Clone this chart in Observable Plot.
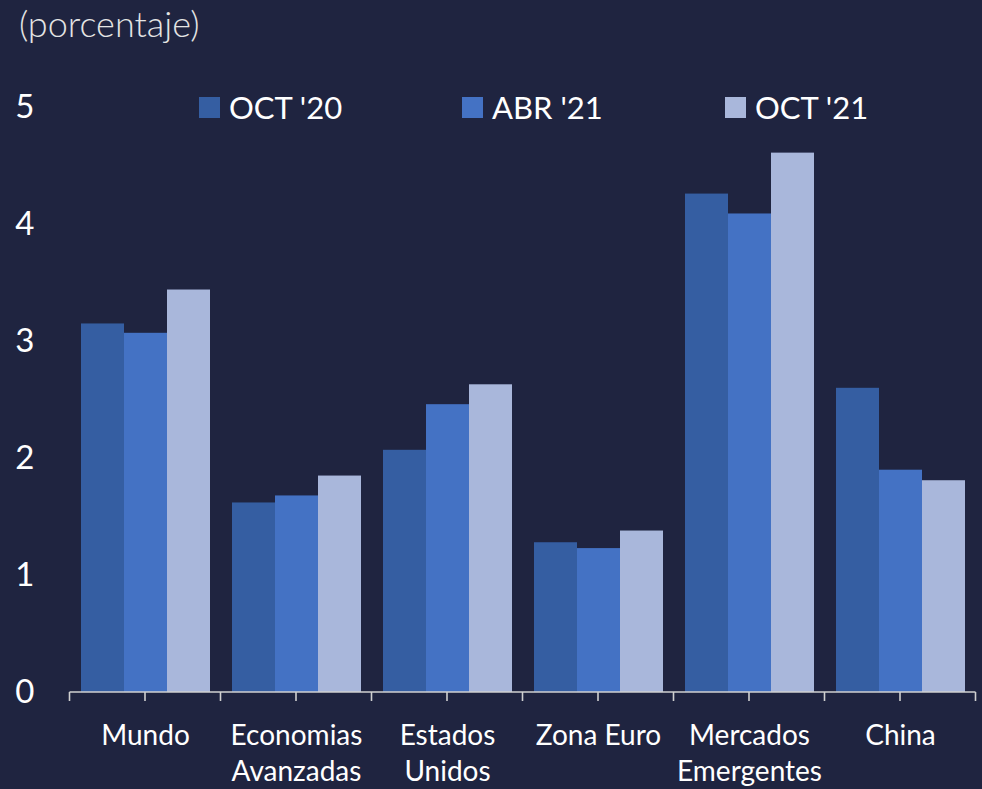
<!DOCTYPE html>
<html>
<head>
<meta charset="utf-8">
<script src="https://cdn.jsdelivr.net/npm/d3@7"></script>
<script src="https://cdn.jsdelivr.net/npm/@observablehq/plot@0.6"></script>
<style>
  html, body { margin: 0; padding: 0; background: #1f2440; }
  #wrap { position: relative; width: 982px; height: 789px; overflow: hidden; font-family: Lato, "Open Sans", sans-serif; }
  #title { position: absolute; left: 19px; top: 1px; font-size: 36px; color: #e4e4e4; font-weight: 300; }
  #legend { position: absolute; left: 199px; top: 88px; display: flex; }
  .item { width: 263px; display: flex; align-items: center; font-size: 31px; color: #ffffff; height: 38px; }
  .sw { width: 21px; height: 21px; margin-right: 9px; flex: none; }
</style>
</head>
<body>
<div id="wrap">
  <div id="title">(porcentaje)</div>
  <div id="legend"></div>
</div>
<script>
const groups = ["Mundo", "Economias Avanzadas", "Estados Unidos", "Zona Euro", "Mercados Emergentes", "China"];
const groupLabels = ["Mundo", "Economias\nAvanzadas", "Estados\nUnidos", "Zona Euro", "Mercados\nEmergentes", "China"];
const series = ["OCT '20", "ABR '21", "OCT '21"];
const colors = ["#355ea2", "#4472c4", "#a9b7db"];
const oct20 = [3.15, 1.62, 2.07, 1.28, 4.26, 2.60];
const abr21 = [3.07, 1.68, 2.46, 1.23, 4.09, 1.90];
const oct21 = [3.44, 1.85, 2.63, 1.38, 4.61, 1.81];
const yTicks = [0, 1, 2, 3, 4, 5];

const values = [oct20, abr21, oct21];
const rows = [];
groups.forEach((g, i) => series.forEach((s, j) => rows.push({group: g, series: s, value: values[j][i]})));
const labelRows = groups.map((g, i) => ({group: g, label: groupLabels[i]}));

const axisColor = "#d0d0d0";

const plot = Plot.plot({
  width: 982,
  height: 789,
  marginTop: 107,
  marginBottom: 97,
  marginLeft: 69,
  marginRight: 7,
  style: {background: "transparent", color: "#ffffff", fontFamily: "Lato, 'Open Sans', sans-serif"},
  fx: {domain: groups, paddingInner: 0.14, paddingOuter: 0.07, axis: null, label: null},
  x: {domain: series, padding: 0, axis: null, label: null},
  y: {domain: [0, 5], axis: null},
  color: {domain: series, range: colors},
  marks: [
    Plot.axisY({ticks: yTicks, tickSize: 0, tickPadding: 46, tickFormat: d3.format("d"), label: null, fontSize: 33, fill: "#ffffff"}),
    Plot.barY(rows, {fx: "group", x: "series", y: "value", fill: "series"}),
    Plot.text(labelRows, {fx: "group", text: "label", frameAnchor: "bottom", lineAnchor: "top", dy: 27, lineHeight: 1.286, fontSize: 28, fill: "#ffffff"})
  ]
});

// baseline axis with ticks at group boundaries and centres, from the fx and y scales
const fx = plot.scale("fx");
const y = plot.scale("y");
const bw = fx.bandwidth;
const step = fx.step;
const gap = step - bw;
const y0 = y.apply(0);
const tickXs = [];
groups.forEach((g) => {
  const start = fx.apply(g);
  tickXs.push(start - gap / 2, start + bw / 2);
});
tickXs.push(fx.apply(groups[groups.length - 1]) + bw + gap / 2);
const ax = d3.select(plot).append("g").attr("stroke", axisColor).attr("stroke-width", 1.6);
ax.append("line").attr("x1", tickXs[0]).attr("x2", tickXs[tickXs.length - 1]).attr("y1", y0).attr("y2", y0);
ax.selectAll("line.t").data(tickXs).join("line").attr("class", "t")
  .attr("x1", d => d).attr("x2", d => d).attr("y1", y0).attr("y2", y0 + 9);

const wrap = document.getElementById("wrap");
wrap.insertBefore(plot, wrap.firstChild);

const legend = d3.select("#legend");
series.forEach((s, i) => {
  const it = legend.append("div").attr("class", "item");
  it.append("div").attr("class", "sw").style("background", colors[i]);
  it.append("span").text(s);
});
</script>
</body>
</html>
